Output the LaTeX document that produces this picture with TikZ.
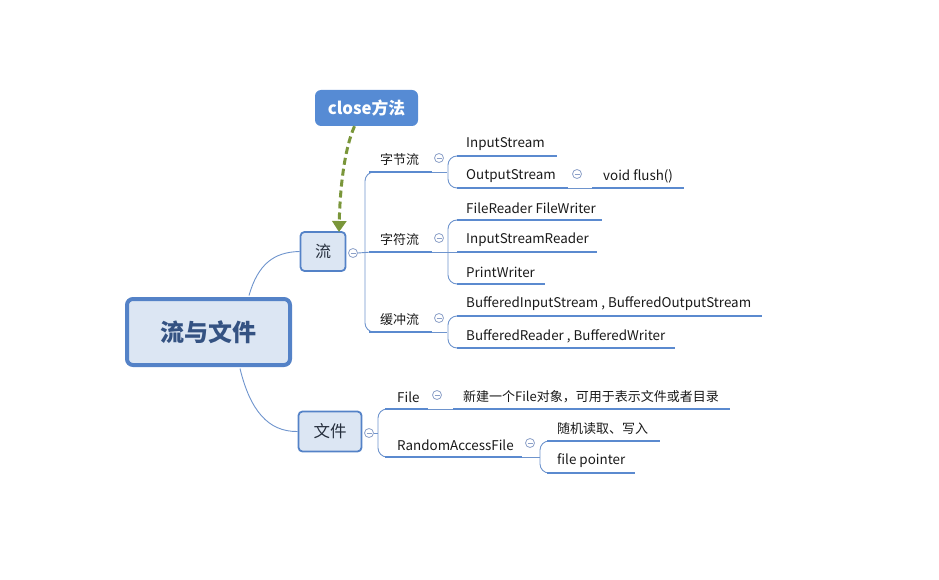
\documentclass[tikz,border=0pt]{standalone}
\usepackage{fontspec}
\setmainfont{Noto Sans CJK SC}
\usetikzlibrary{arrows.meta}
\definecolor{ul}{RGB}{91,138,207}
\definecolor{thin}{RGB}{110,148,205}
\definecolor{bord}{RGB}{84,130,199}
\definecolor{boxfill}{RGB}{220,230,243}
\definecolor{roottext}{RGB}{52,82,130}
\definecolor{calfill}{RGB}{86,139,212}
\definecolor{arrg}{RGB}{122,150,58}
\definecolor{circ}{RGB}{140,160,200}
\definecolor{txt}{RGB}{25,25,25}
\tikzset{
  lbl/.style={anchor=west,inner sep=0pt,font=\fontsize{13}{14}\selectfont,text=txt},
  lbll/.style={anchor=west,inner sep=0pt,font=\fontsize{13.4}{14}\selectfont,text=txt},
  uline/.style={draw=ul,line width=2.6pt},
  tline/.style={draw=thin,line width=0.9pt},
  bracket/.style={draw=thin,line width=0.9pt,rounded corners=9pt},
  cminus/.style={circle,draw=circ,fill=white,line width=0.8pt,minimum size=9pt,inner sep=0pt,
     path picture={\draw[circ,line width=0.8pt] ([xshift=-2.5pt]path picture bounding box.center) -- ([xshift=2.5pt]path picture bounding box.center);}},
}
\begin{document}
\begin{tikzpicture}[x=1pt,y=-1pt]
\useasboundingbox (0,0) rectangle (939,580);
% root
\node[draw=bord,line width=4pt,fill=boxfill,rounded corners=6pt,minimum width=163pt,minimum height=66pt,inner sep=0pt,
  font=\bfseries\fontsize{24}{26}\selectfont,text=roottext] (root) at (208.5,332) {流与文件};
\node[draw=bord,line width=1.8pt,fill=boxfill,rounded corners=4pt,minimum width=45pt,minimum height=39pt,inner sep=0pt,
  font=\fontsize{16}{18}\selectfont,text=txt!80!bord] (liu) at (323,251.5) {流};
\node[draw=bord,line width=1.8pt,fill=boxfill,rounded corners=4pt,minimum width=63pt,minimum height=40pt,inner sep=0pt,
  font=\fontsize{16.5}{18}\selectfont,text=txt!80!bord] (wj) at (330,431.5) {文件};
\node[fill=calfill,rounded corners=6pt,minimum width=103pt,minimum height=36pt,inner sep=0pt,
  font=\bfseries\fontsize{16.8}{18}\selectfont,text=white] (close) at (366.5,108) {close方法};
% root connectors
\coordinate (rt) at (249,295.5);
\coordinate (rb) at (240,368.5);
\draw[tline] (rt) .. controls (258,264) and (274,252) .. (liu.west);
\draw[tline] (rb) .. controls (250,410) and (268,432) .. (wj.west);
% dashed arrow
\coordinate (ctip) at (339,232);
\draw[arrg,line width=3pt,dash pattern=on 7pt off 4pt,-{Triangle[length=11pt,width=14pt]}]
  ([xshift=-12pt]close.south) .. controls (344,150) and (340,190) .. (ctip);
% circle at liu
\node[cminus] (c0) at (353,253) {};
\draw[tline] (c0.east) -- (372,252);
\draw[bracket] (372,172) -- (365,172) -- (365,332) -- (372,332);
% level 1 under liu
\coordinate (zjA) at (369,172); \coordinate (zjB) at (432,172);
\coordinate (zfA) at (369,252); \coordinate (zfB) at (432,252);
\coordinate (hcA) at (369,332); \coordinate (hcB) at (432,332);
\draw[uline] (zjA) -- (zjB);
\draw[uline] (zfA) -- (zfB);
\draw[uline] (hcA) -- (hcB);
\node[lbl] (zj) at (380,160) {字节流};
\node[lbl] (zf) at (380,240) {字符流};
\node[lbl] (hc) at (380,320) {缓冲流};
\node[cminus] (c1) at (439,158) {};
\node[cminus] (c2) at (439,238) {};
\node[cminus] (c3) at (439,318) {};
% brackets level 2
\draw[tline] (zjB) -- (447,172);
\draw[bracket] (458,156) -- (448,156) -- (448,188) -- (458,188);
\draw[tline] (zfB) -- (458,252);
\draw[bracket] (458,220) -- (448,220) -- (448,284) -- (458,284);
\draw[tline] (hcB) -- (447,332);
\draw[bracket] (458,316) -- (448,316) -- (448,348) -- (458,348);
% leaves
\draw[uline] (457,156) -- (557,156);
\node[lbll] (is) at (466,144) {InputStream};
\draw[uline] (457,188) -- (568,188);
\node[lbll] (os) at (466,176) {OutputStream};
\node[cminus] (c4) at (577,174) {};
\draw[tline] (568,188) -- (593,188);
\draw[uline] (592,188) -- (684,188);
\node[lbll] (vf) at (603,176) {void flush()};
\draw[uline] (457,220) -- (602,220);
\node[lbll] (fr) at (466,208) {FileReader FileWriter};
\draw[uline] (457,252) -- (597,252);
\node[lbll] (isr) at (466,240) {InputStreamReader};
\draw[uline] (457,284) -- (545,284);
\node[lbll] (pw) at (466,272) {PrintWriter};
\draw[uline] (457,316) -- (762,316);
\node[lbll] (bis) at (466,304) {BufferedInputStream , BufferedOutputStream};
\draw[uline] (457,348) -- (675,348);
\node[lbll] (br) at (466,336) {BufferedReader , BufferedWriter};
% 文件 side
\node[cminus] (c5) at (369,433) {};
\draw[tline] (c5.east) -- (378,433);
\draw[bracket] (386,409) -- (378,409) -- (378,457) -- (386,457);
\draw[uline] (385,409) -- (428,409);
\node[lbll] (file) at (397,397) {File};
\node[cminus] (c6) at (437,395) {};
\draw[tline] (428,409) -- (454,409);
\draw[uline] (453,409) -- (730,409);
\node[lbl] (newf) at (463,397) {新建一个File对象，可用于表示文件或者目录};
\draw[uline] (385,457) -- (522,457);
\node[lbll] (raf) at (397,445) {RandomAccessFile};
\node[cminus] (c7) at (530,443) {};
\draw[tline] (522,457) -- (540,457);
\draw[bracket] (548,441) -- (540,441) -- (540,473) -- (548,473);
\draw[uline] (547,441) -- (660,441);
\node[lbl] (sj) at (557,429) {随机读取、写入};
\draw[uline] (547,473) -- (635,473);
\node[lbll] (fp) at (557,461) {file pointer};
\end{tikzpicture}
\end{document}
